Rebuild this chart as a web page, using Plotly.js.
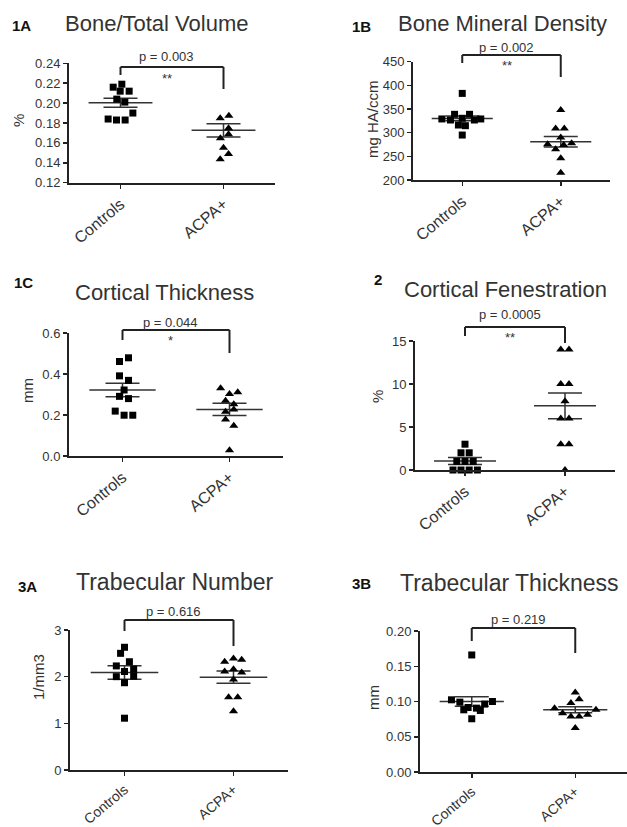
<!DOCTYPE html>
<html><head><meta charset="utf-8">
<script src="https://cdn.plot.ly/plotly-3.0.1.min.js"></script>
<style>html,body{margin:0;padding:0;background:#fff}#chart{width:627px;height:827px}</style>
</head><body><div id="chart"></div>
<script>
const categories = ['Controls', 'ACPA+'];

// 1A Bone/Total Volume
const bvCtrl  = [0.219, 0.216, 0.212, 0.212, 0.204, 0.201, 0.190, 0.184, 0.183, 0.183];
const bvCtrlX = [0.013, -0.071, -0.003, 0.084, -0.036, 0.042, 0.12, -0.12, -0.039, 0.045];
const bvAcpa  = [0.1873, 0.1847, 0.1747, 0.1686, 0.1646, 0.1552, 0.1488, 0.1435];
const bvAcpaX = [0.052, -0.032, 0.049, 0.049, -0.03, 0, 0.049, -0.032];
const bvMean  = [0.2004, 0.1726];
const bvSem   = [0.0045, 0.0067];
const bvTicks = [0.12, 0.14, 0.16, 0.18, 0.20, 0.22, 0.24];

// 1B Bone Mineral Density
const bmdCtrl  = [383, 338.8, 338.8, 329, 326.8, 330.4, 326.8, 329, 316.2, 314.8, 295];
const bmdCtrlX = [0, -0.078, 0.074, -0.207, -0.12, 0, 0.123, 0.188, -0.039, 0.032, 0];
const bmdAcpa  = [348, 309, 309, 290, 275.5, 264.9, 274, 277.6, 245.9, 215.5];
const bmdAcpaX = [0, -0.052, 0.036, 0, -0.133, -0.052, 0.03, 0.11, 0, 0];
const bmdMean  = [330, 281];
const bmdSem   = [5, 11];
const bmdTicks = [200, 250, 300, 350, 400, 450];

// 1C Cortical Thickness
const ctCtrl  = [0.479, 0.461, 0.391, 0.369, 0.322, 0.291, 0.280, 0.219, 0.199, 0.199];
const ctCtrlX = [0.056, -0.028, -0.028, 0.056, 0.015, -0.028, 0.056, -0.068, 0.015, 0.096];
const ctAcpa  = [0.330, 0.311, 0.302, 0.270, 0.253, 0.227, 0.216, 0.178, 0.147, 0.028];
const ctAcpaX = [-0.083, 0.077, 0, -0.037, 0.04, 0.04, -0.037, -0.037, 0.04, 0];
const ctMean  = [0.322, 0.227];
const ctSem   = [0.033, 0.03];
const ctTicks = [0, 0.2, 0.4, 0.6];

// 2 Cortical Fenestration
const cfCtrl  = [3, 2, 2, 1, 1, 1, 0, 0, 0, 0];
const cfCtrlX = [0, -0.04, 0.042, -0.082, 0, 0.082, -0.12, -0.04, 0.042, 0.124];
const cfAcpa  = [14, 14, 10, 10, 8, 6, 6, 3, 3, 0];
const cfAcpaX = [-0.042, 0.04, -0.042, 0.04, 0, -0.042, 0.04, -0.042, 0.04, 0];
const cfMean  = [1.05, 7.46];
const cfSem   = [0.4, 1.5];
const cfTicks = [0, 5, 10, 15];

// 3A Trabecular Number
const tnCtrl  = [2.63, 2.5, 2.32, 2.23, 2.16, 2.11, 2.0, 2.01, 1.87, 1.11];
const tnCtrlX = [0, -0.036, 0.045, -0.075, 0.084, 0, -0.075, 0.084, 0, 0];
const tnAcpa  = [2.32, 2.39, 2.36, 2.11, 2.16, 2.09, 1.94, 1.56, 1.56, 1.26];
const tnAcpaX = [-0.081, 0, 0.075, -0.081, 0, 0.075, 0, -0.045, 0.039, 0];
const tnMean  = [2.09, 1.99];
const tnSem   = [0.145, 0.13];
const tnTicks = [0, 1, 2, 3];

// 3B Trabecular Thickness
const ttCtrl  = [0.166, 0.1024, 0.0991, 0.100, 0.0963, 0.0915, 0.0882, 0.0906, 0.0873, 0.0755];
const ttCtrlX = [0, -0.196, -0.115, 0.2, 0.125, -0.035, -0.077, 0.045, 0.083, 0];
const ttAcpa  = [0.1127, 0.1033, 0.0977, 0.0906, 0.0882, 0.0835, 0.0787, 0.0787, 0.0811, 0.0623];
const ttAcpaX = [0, 0.038, -0.042, -0.2, 0.2, -0.122, -0.042, 0.038, 0.119, 0];
const ttMean  = [0.100, 0.0882];
const ttSem   = [0.0066, 0.0043];
const ttTicks = [0, 0.05, 0.10, 0.15, 0.20];

const panelLabels = ['1A', '1B', '1C', '2', '3A', '3B'];
const panelTitles = ['Bone/Total Volume', 'Bone Mineral Density', 'Cortical Thickness',
                     'Cortical Fenestration', 'Trabecular Number', 'Trabecular Thickness'];
const yTitles = ['%', 'mg HA/ccm', 'mm', '%', '1/mm3', 'mm'];
const pTexts = ['p = 0.003', 'p = 0.002', 'p = 0.044', 'p = 0.0005', 'p = 0.616', 'p = 0.219'];
const starTexts = ['**', '**', '*', '**', '', ''];

const W = 627, H = 827;
const FONT = 'Liberation Sans, Arial, Helvetica, sans-serif';
const INK = '#222';
const TXT = '#333';

// layout geometry (pixels)
const panels = [
  {ctrl: bvCtrl, ctrlX: bvCtrlX, acpa: bvAcpa, acpaX: bvAcpaX, mean: bvMean, sem: bvSem, ticks: bvTicks, fmt: '.2f',
   box: [69, 275, 63.3, 182.7], br: [67, 75, 89, 57, 78], lab: [21, 25], tit: [156, 24, 22], yt: [18, 121], xf: 16},
  {ctrl: bmdCtrl, ctrlX: bmdCtrlX, acpa: bmdAcpa, acpaX: bmdAcpaX, mean: bmdMean, sem: bmdSem, ticks: bmdTicks, fmt: 'd',
   box: [413, 610, 61.7, 180], br: [55, 63, 77, 47, 66], lab: [361, 26], tit: [502, 23, 22], yt: [372, 119], xf: 16},
  {ctrl: ctCtrl, ctrlX: ctCtrlX, acpa: ctAcpa, acpaX: ctAcpaX, mean: ctMean, sem: ctSem, ticks: ctTicks, fmt: '.1f',
   box: [69, 283, 333, 456], br: [330, 340, 353, 322, 341], lab: [23, 282], tit: [164, 292, 22], yt: [27, 391], xf: 16},
  {ctrl: cfCtrl, ctrlX: cfCtrlX, acpa: cfAcpa, acpaX: cfAcpaX, mean: cfMean, sem: cfSem, ticks: cfTicks, fmt: 'd',
   box: [415, 615, 341, 470], br: [327, 336, 343, 315, 337], lab: [378, 279], tit: [505, 289, 22], yt: [378, 397], xf: 16},
  {ctrl: tnCtrl, ctrlX: tnCtrlX, acpa: tnAcpa, acpaX: tnAcpaX, mean: tnMean, sem: tnSem, ticks: tnTicks, fmt: 'd',
   box: [70, 288, 630, 770], br: [620, 631, 646, 611, 0], lab: [27, 586], tit: [175, 582, 23], yt: [38, 677], xf: 14},
  {ctrl: ttCtrl, ctrlX: ttCtrlX, acpa: ttAcpa, acpaX: ttAcpaX, mean: ttMean, sem: ttSem, ticks: ttTicks, fmt: '.2f',
   box: [420, 627, 631, 772], br: [628, 641, 653, 619, 0], lab: [361, 583], tit: [509, 583, 23], yt: [373, 698], xf: 14}
];

const MEAN_HALF = 0.31;
const traces = [];
const layout = {
  width: W, height: H, margin: {l: 0, r: 0, t: 0, b: 0},
  paper_bgcolor: '#fff', plot_bgcolor: '#fff', showlegend: false,
  font: {family: FONT, color: TXT},
  shapes: [], annotations: []
};

panels.forEach((p, i) => {
  const n = i + 1;
  const xa = 'x' + (n === 1 ? '' : n), ya = 'y' + (n === 1 ? '' : n);
  const xkey = 'xaxis' + (n === 1 ? '' : n), ykey = 'yaxis' + (n === 1 ? '' : n);
  const [l, r, t, b] = p.box;
  layout[xkey] = {
    domain: [l / W, r / W], range: [0.5, 2.5], anchor: ya,
    tickvals: [1, 2], ticktext: categories, tickangle: -40,
    ticks: 'outside', ticklen: 4, tickwidth: 1.5, tickcolor: INK,
    showline: true, linewidth: 2, linecolor: INK, showgrid: false, zeroline: false,
    tickfont: {size: p.xf, color: TXT, family: FONT}, fixedrange: true
  };
  layout[ykey] = {
    domain: [1 - b / H, 1 - t / H], range: [p.ticks[0], p.ticks[p.ticks.length - 1]], anchor: xa,
    tickvals: p.ticks, tickformat: p.fmt,
    ticks: 'outside', ticklen: 4, tickwidth: 1.5, tickcolor: INK,
    showline: true, linewidth: 2, linecolor: INK, showgrid: false, zeroline: false,
    tickfont: {size: 13, color: TXT, family: FONT}, fixedrange: true
  };
  // mean lines
  traces.push({
    type: 'scatter', mode: 'lines', xaxis: xa, yaxis: ya, hoverinfo: 'skip',
    x: [1 - MEAN_HALF, 1 + MEAN_HALF, null, 2 - MEAN_HALF, 2 + MEAN_HALF],
    y: [p.mean[0], p.mean[0], null, p.mean[1], p.mean[1]],
    line: {color: '#333', width: 1.5}, cliponaxis: false
  });
  // SEM bars
  traces.push({
    type: 'scatter', mode: 'markers', xaxis: xa, yaxis: ya, hoverinfo: 'skip',
    x: [1, 2], y: p.mean, marker: {size: 1, color: 'rgba(0,0,0,0)'},
    error_y: {type: 'data', array: p.sem, visible: true, width: 17, thickness: 1.5, color: '#333'}
  });
  // points
  traces.push({
    type: 'scatter', mode: 'markers', xaxis: xa, yaxis: ya, cliponaxis: false,
    x: p.ctrlX.map(d => 1 + d), y: p.ctrl,
    marker: {symbol: 'square', size: 7, color: '#000'}
  });
  traces.push({
    type: 'scatter', mode: 'markers', xaxis: xa, yaxis: ya, cliponaxis: false,
    x: p.acpaX.map(d => 2 + d), y: p.acpa,
    marker: {symbol: 'triangle-up', size: 8, color: '#000'}
  });
  // bracket
  const [bt, blb, brb, bp, bs] = p.br;
  const ln = {color: INK, width: 2};
  layout.shapes.push({type: 'line', xref: xa, yref: 'paper', x0: 1, x1: 2, y0: 1 - bt / H, y1: 1 - bt / H, line: ln});
  layout.shapes.push({type: 'line', xref: xa, yref: 'paper', x0: 1, x1: 1, y0: 1 - bt / H, y1: 1 - blb / H, line: ln});
  layout.shapes.push({type: 'line', xref: xa, yref: 'paper', x0: 2, x1: 2, y0: 1 - bt / H, y1: 1 - brb / H, line: ln});
  layout.annotations.push({xref: xa, yref: 'paper', x: 1.45, y: 1 - bp / H, text: pTexts[i], showarrow: false,
    xanchor: 'center', yanchor: 'middle', font: {size: 13, color: TXT, family: FONT}});
  if (starTexts[i]) {
    layout.annotations.push({xref: xa, yref: 'paper', x: 1.45, y: 1 - bs / H, text: starTexts[i], showarrow: false,
      xanchor: 'center', yanchor: 'middle', font: {size: 13, color: TXT, family: FONT}});
  }
  // title, label, y title
  layout.annotations.push({xref: 'paper', yref: 'paper', x: p.tit[0] / W, y: 1 - p.tit[1] / H, text: panelTitles[i],
    showarrow: false, xanchor: 'center', yanchor: 'middle', font: {size: p.tit[2], color: TXT, family: FONT}});
  layout.annotations.push({xref: 'paper', yref: 'paper', x: p.lab[0] / W, y: 1 - p.lab[1] / H, text: '<b>' + panelLabels[i] + '</b>',
    showarrow: false, xanchor: 'center', yanchor: 'middle', font: {size: 15, color: '#111', family: FONT}});
  layout.annotations.push({xref: 'paper', yref: 'paper', x: p.yt[0] / W, y: 1 - p.yt[1] / H, text: yTitles[i],
    showarrow: false, xanchor: 'center', yanchor: 'middle', textangle: -90, font: {size: 15, color: TXT, family: FONT}});
});

Plotly.newPlot('chart', traces, layout, {staticPlot: true, displayModeBar: false});
</script>
</body></html>
